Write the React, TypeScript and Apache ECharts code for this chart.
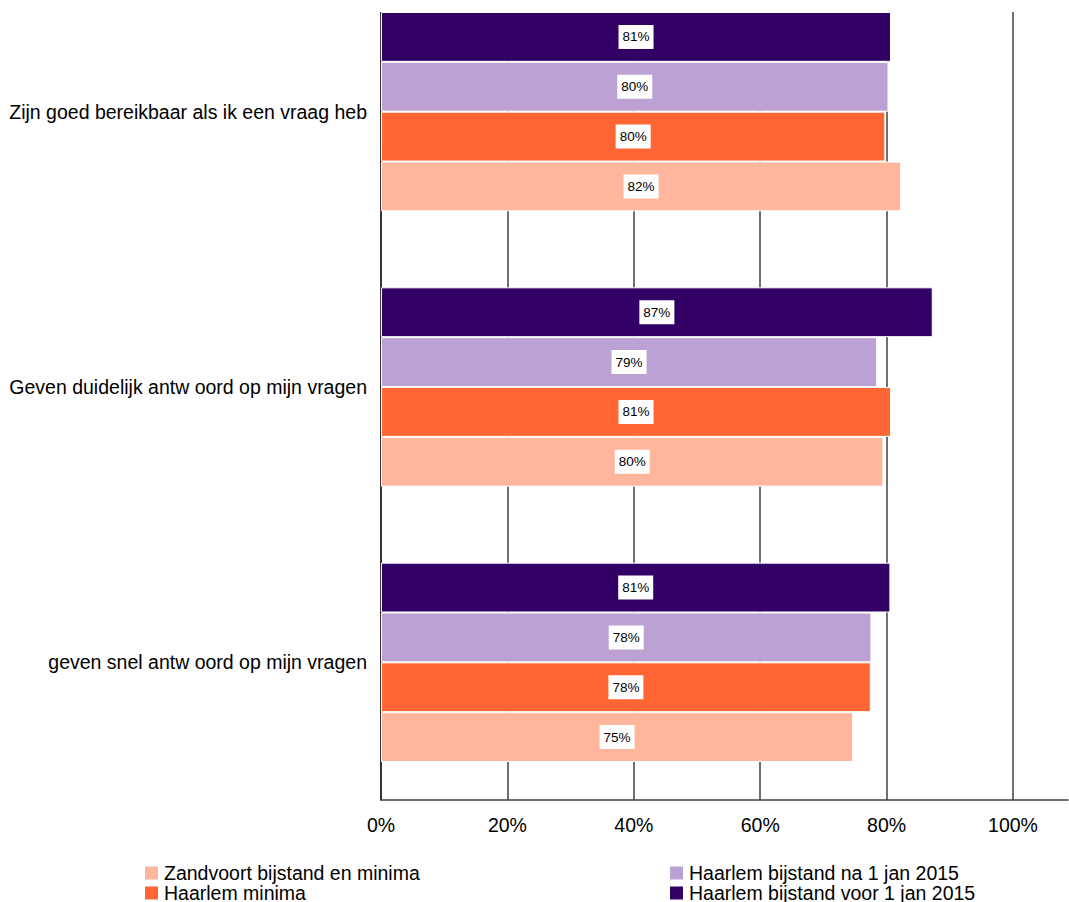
import React, { useEffect, useRef } from "react";
import * as echarts from "echarts";

const categories = [
  "geven snel antw oord op mijn vragen",
  "Geven duidelijk antw oord op mijn vragen",
  "Zijn goed bereikbaar als ik een vraag heb",
];
// series listed top-to-bottom within each group
const seriesNames = [
  "Haarlem bijstand voor 1 jan 2015",
  "Haarlem bijstand na 1 jan 2015",
  "Haarlem minima",
  "Zandvoort bijstand en minima",
];
const haarlemVoor = [80.6, 87.3, 80.7];
const haarlemNa = [77.6, 78.5, 80.3];
const haarlemMinima = [77.5, 80.7, 79.8];
const zandvoort = [74.7, 79.5, 82.3];
const seriesValues = [haarlemVoor, haarlemNa, haarlemMinima, zandvoort];
const colors = ["#330066", "#bca1d4", "#ff6633", "#ffb69c"];
const xTicks = [0, 20, 40, 60, 80, 100];

// legend layout: [name, left, top]
const legendItems: [string, number, number][] = [
  ["Zandvoort bijstand en minima", 143, 889],
  ["Haarlem minima", 143, 909],
  ["Haarlem bijstand na 1 jan 2015", 668, 889],
  ["Haarlem bijstand voor 1 jan 2015", 668, 909],
];

const FONT = "'Liberation Sans', Arial, sans-serif";
const FS = 19.5;

export default function App() {
  const ref = useRef<HTMLDivElement>(null);
  useEffect(() => {
    if (!ref.current) return;
    const chart = echarts.init(ref.current, undefined, { renderer: "svg" });
    const option: any = {
      animation: false,
      backgroundColor: "#ffffff",
      textStyle: { fontFamily: FONT },
      grid: { left: 381, right: 1, top: 0, bottom: 102, containLabel: false },
      xAxis: {
        type: "value",
        min: 0,
        max: 108.7,
        interval: 20,
        axisLine: { show: true, lineStyle: { color: "#404040", width: 1.5 } },
        axisTick: { show: false },
        axisLabel: {
          show: true,
          margin: 15,
          fontSize: FS,
          color: "#000",
          fontFamily: FONT,
          showMaxLabel: false,
          formatter: (v: number) => (xTicks.indexOf(v) >= 0 ? v + "%" : ""),
        },
        splitLine: {
          show: true,
          showMaxLine: false,
          lineStyle: { color: "#404040", width: 1.5 },
        },
      },
      yAxis: {
        type: "category",
        data: categories,
        axisLine: { show: true, lineStyle: { color: "#222", width: 1.5 } },
        axisTick: { show: false },
        axisLabel: { margin: 14, fontSize: FS, color: "#000", fontFamily: FONT },
      },
      legend: legendItems.map(([name, left, top]) => ({
        orient: "horizontal",
        left,
        top,
        padding: 0,
        itemWidth: 15,
        itemHeight: 15,
        icon: "rect",
        data: [name],
        textStyle: { fontSize: FS, color: "#000", lineHeight: 16, fontFamily: FONT },
      })),
      series: seriesNames.map((name, i) => ({
        name,
        type: "bar",
        data: seriesValues[i],
        barGap: "0%",
        barCategoryGap: "27.6%",
        itemStyle: { color: colors[i], borderColor: "#ffffff", borderWidth: 1 },
        label: {
          show: true,
          position: "inside",
          formatter: (p: any) => Math.round(p.value) + "%",
          backgroundColor: "#ffffff",
          padding: [5, 4],
          color: "#000",
          fontSize: 13.5,
          fontFamily: FONT,
        },
      })),
      graphic: [
        {
          type: "rect",
          z: 100,
          shape: { x: 360, y: 0, width: 709, height: 38 },
          style: { fill: "#ffffff" },
        },
      ],
    };
    chart.setOption(option);
    return () => chart.dispose();
  }, []);
  return (
    <div
      ref={ref}
      style={{ position: "fixed", left: 0, top: -26, width: 1069, height: 928 }}
    />
  );
}
